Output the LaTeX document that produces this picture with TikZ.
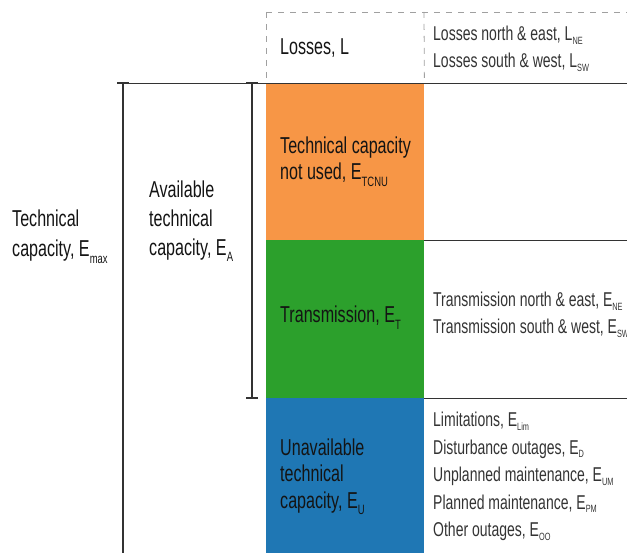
\documentclass[tikz,border=0pt]{standalone}
\usepackage{fontspec}
\setmainfont[FakeStretch=0.70]{Liberation Sans}
\definecolor{corange}{HTML}{F79646}
\definecolor{cgreen}{HTML}{2CA02C}
\definecolor{cblue}{HTML}{1F77B4}
\definecolor{cline}{HTML}{333333}
\definecolor{cdash}{HTML}{A0A0A0}
\newcommand{\bsub}[1]{\raisebox{-6.5pt}{\fontsize{13.5}{13.5}\selectfont #1}}
\newcommand{\ssub}[1]{\raisebox{-3.5pt}{\fontsize{10.5}{10.5}\selectfont #1}}
\begin{document}
\begin{tikzpicture}[x=1pt,y=-1pt,
  big/.style={anchor=base west, inner sep=0pt, font=\fontsize{23}{26}\selectfont, text=black!92},
  small/.style={anchor=base west, inner sep=0pt, font=\fontsize{20}{22}\selectfont, text=black!80},
  colbox/.style={draw=none, inner sep=0pt, minimum width=158pt, anchor=north west},
  rule/.style={draw=cline, line width=0.9pt},
  bar/.style={draw=cline, line width=1.4pt},
  dashrule/.style={draw=cdash, line width=0.8pt, dash pattern=on 6pt off 6pt}]
\useasboundingbox (0,0) rectangle (627,553);
% coloured column
\node[colbox, fill=corange, minimum height=157pt] (tcnu) at (266,83) {};
\node[colbox, fill=cgreen, minimum height=158pt] (trans) at (266,240) {};
\node[colbox, fill=cblue, minimum height=156pt] (unav) at (266,398) {};
% losses (dashed)
\coordinate (lTL) at (266,12);
\coordinate (lTM) at (424,12);
\coordinate (lTR) at (627,12);
\draw[dashrule] (lTL) -- (lTR);
\draw[dashrule] (lTL) -- (tcnu.north west);
\draw[dashrule] (lTM) -- (tcnu.north east);
% horizontal rules
\coordinate (r1L) at (117,83);
\coordinate (r1R) at (627,83);
\coordinate (r2R) at (627,240);
\coordinate (r3R) at (627,398);
\draw[rule] (r1L) -- (r1R);
\draw[rule] (trans.north east) -- (r2R);
\draw[rule] (unav.north east) -- (r3R);
% outer bar (technical capacity)
\coordinate (oT) at (123,83);
\coordinate (oB) at (123,553);
\draw[bar] (oT) -- (oB);
\draw[bar] ([xshift=-6pt]oT) -- ([xshift=6pt]oT);
% inner bar (available capacity)
\coordinate (iT) at (252,83);
\coordinate (iB) at (252,398);
\draw[bar] (iT) -- (iB);
\draw[bar] ([xshift=-6pt]iT) -- ([xshift=6pt]iT);
\draw[bar] ([xshift=-6pt]iB) -- ([xshift=6pt]iB);
% left labels
\node[big] (tc1) at (12,226.7) {Technical};
\node[big] (tc2) at (12,256.7) {capacity, E\bsub{max}};
\node[big] (av1) at (149,198) {Available};
\node[big] (av2) at (149,226.7) {technical};
\node[big] (av3) at (149,255.5) {capacity, E\bsub{A}};
% column labels
\node[big] (ls) at (280,55) {Losses, L};
\node[big] (tn1) at (280,154) {Technical capacity};
\node[big] (tn2) at (280,180) {not used, E\bsub{TCNU}};
\node[big] (tr) at (280,323) {Transmission, E\bsub{T}};
\node[big] (un1) at (280,455.7) {Unavailable};
\node[big] (un2) at (280,481.7) {technical};
\node[big] (un3) at (280,508) {capacity, E\bsub{U}};
% right lists
\node[small] (lne) at (433,41) {Losses north \& east, L\ssub{NE}};
\node[small] (lsw) at (433,68) {Losses south \& west, L\ssub{SW}};
\node[small] (ene) at (433,307) {Transmission north \& east, E\ssub{NE}};
\node[small] (esw) at (433,334) {Transmission south \& west, E\ssub{SW}};
\node[small] (elim) at (433,426.7) {Limitations, E\ssub{Lim}};
\node[small] (ed) at (433,454) {Disturbance outages, E\ssub{D}};
\node[small] (eum) at (433,481.7) {Unplanned maintenance, E\ssub{UM}};
\node[small] (epm) at (433,509) {Planned maintenance, E\ssub{PM}};
\node[small] (eoo) at (433,536.7) {Other outages, E\ssub{OO}};
\end{tikzpicture}
\end{document}
